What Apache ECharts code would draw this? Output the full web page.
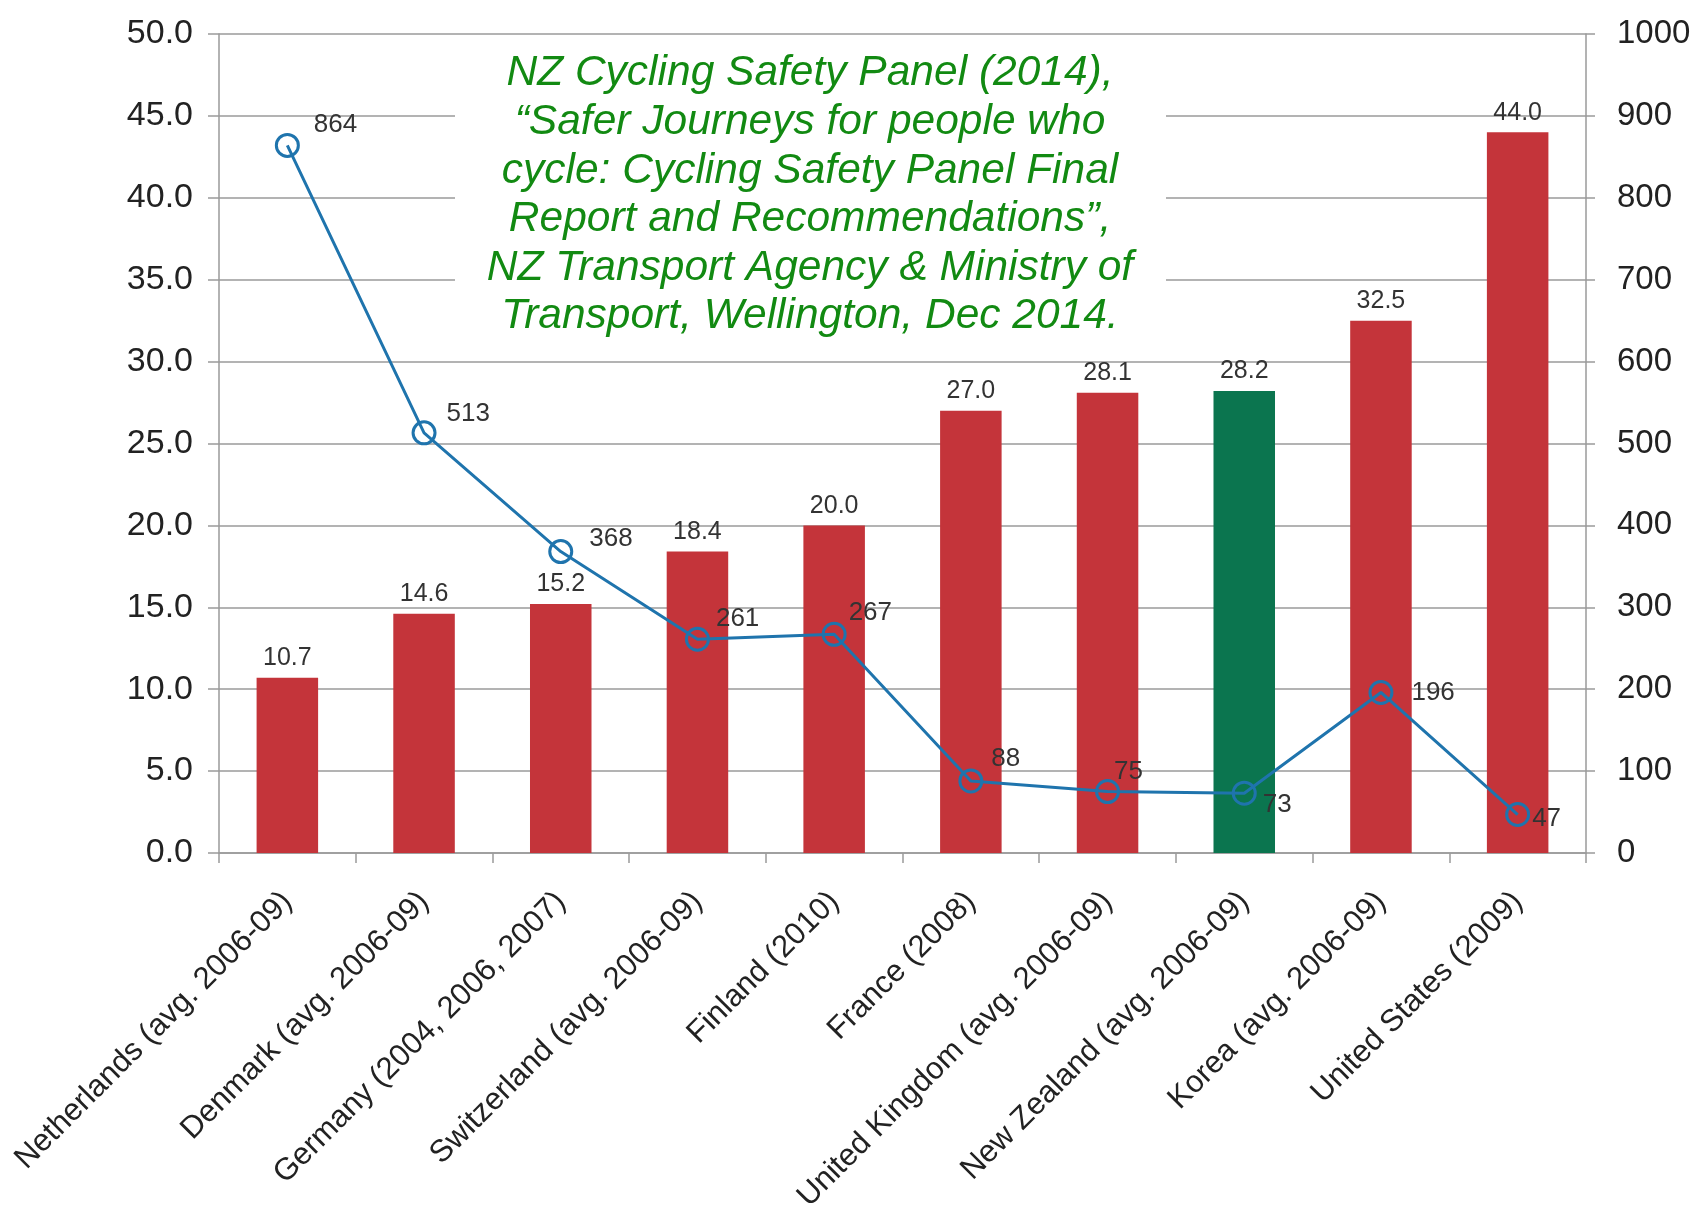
<!DOCTYPE html>
<html>
<head>
<meta charset="utf-8">
<script src="https://cdn.jsdelivr.net/npm/echarts@6/dist/echarts.min.js"></script>
<style>
html,body{margin:0;padding:0;background:#fff;}
#c{width:1690px;height:1214px;}
</style>
</head>
<body>
<div id="c"></div>
<script>
const categories = [
  'Netherlands (avg. 2006-09)',
  'Denmark (avg. 2006-09)',
  'Germany (2004, 2006, 2007)',
  'Switzerland (avg. 2006-09)',
  'Finland (2010)',
  'France (2008)',
  'United Kingdom (avg. 2006-09)',
  'New Zealand (avg. 2006-09)',
  'Korea (avg. 2006-09)',
  'United States (2009)'
];
const barValues = [10.7, 14.6, 15.2, 18.4, 20.0, 27.0, 28.1, 28.2, 32.5, 44.0];
const lineValues = [864, 513, 368, 261, 267, 88, 75, 73, 196, 47];
const highlightCategory = 'New Zealand (avg. 2006-09)';
const leftTicks = {min: 0, max: 50, interval: 5};
const rightTicks = {min: 0, max: 1000, interval: 100};
const sourceNote = 'NZ Cycling Safety Panel (2014),\n\u201cSafer Journeys for people who\ncycle: Cycling Safety Panel Final\nReport and Recommendations\u201d,\nNZ Transport Agency & Ministry of\nTransport, Wellington, Dec 2014.';

// label offsets for the line labels (style only)
const lineLabelOffsets = [[6,-21],[2,-19],[8,-13],[-2,-20],[-6,-21],[0,-22],[-14,-20],[-2,12],[10,0],[-6,4]];

const RED = '#c4343a', GREEN = '#0b754f', BLUE = '#1f74ad', GRID = '#9a9a9a';
const FONT = '"Liberation Sans", Arial, sans-serif';

const chart = echarts.init(document.getElementById('c'), null, {renderer: 'canvas'});
chart.setOption({
  animation: false,
  backgroundColor: '#ffffff',
  grid: {left: 219, right: 104, top: 34, bottom: 361, containLabel: false, outerBoundsMode: 'none'},
  xAxis: {
    type: 'category',
    data: categories,
    boundaryGap: true,
    axisLine: {show: true, lineStyle: {color: GRID, width: 1.5}},
    axisTick: {show: true, length: 10, lineStyle: {color: GRID, width: 1.5}},
    axisLabel: {
      rotate: 45, margin: 44, interval: 0,
      color: '#222', fontSize: 31, fontFamily: FONT
    },
    splitLine: {show: false}
  },
  yAxis: [
    {
      type: 'value', position: 'left',
      min: leftTicks.min, max: leftTicks.max, interval: leftTicks.interval,
      axisLine: {show: true, lineStyle: {color: GRID, width: 1.5}},
      axisTick: {show: true, length: 11, lineStyle: {color: GRID, width: 1.5}},
      axisLabel: {margin: 26, color: '#222', fontSize: 34, fontFamily: FONT,
        formatter: v => v.toFixed(1)},
      splitLine: {show: true, lineStyle: {color: GRID, width: 1.5}}
    },
    {
      type: 'value', position: 'right',
      min: rightTicks.min, max: rightTicks.max, interval: rightTicks.interval,
      axisLine: {show: true, lineStyle: {color: GRID, width: 1.5}},
      axisTick: {show: true, length: 9, lineStyle: {color: GRID, width: 1.5}},
      axisLabel: {margin: 31, color: '#222', fontSize: 33, fontFamily: FONT,
        formatter: v => String(v)},
      splitLine: {show: false}
    }
  ],
  series: [
    {
      type: 'bar',
      yAxisIndex: 0,
      barWidth: '45%',
      data: barValues.map((v, i) => ({
        value: v,
        itemStyle: {color: categories[i] === highlightCategory ? GREEN : RED}
      })),
      label: {
        show: true, position: 'top', distance: 7,
        color: '#333', fontSize: 25, fontFamily: FONT,
        formatter: p => Number(p.value).toFixed(1)
      },
      z: 2
    },
    {
      type: 'line',
      yAxisIndex: 1,
      data: lineValues.map((v, i) => ({
        value: v,
        label: {offset: lineLabelOffsets[i]}
      })),
      symbol: 'circle',
      symbolSize: 22,
      showAllSymbol: true,
      lineStyle: {color: BLUE, width: 3},
      itemStyle: {color: 'rgba(255,255,255,0)', borderColor: BLUE, borderWidth: 3},
      label: {
        show: true, position: 'right', distance: 8,
        color: '#333', fontSize: 26, fontFamily: FONT
      },
      z: 3
    }
  ],
  graphic: [
    {
      type: 'rect', z: 10,
      shape: {x: 455, y: 43, width: 711, height: 302},
      style: {fill: '#ffffff'}
    },
    {
      type: 'text', z: 11,
      x: 810, y: 195,
      style: {
        text: sourceNote,
        fill: '#128a12',
        font: 'italic 42.5px "Liberation Sans", Arial, sans-serif',
        align: 'center',
        verticalAlign: 'middle',
        lineHeight: 48.6
      }
    }
  ]
});
</script>
</body>
</html>
